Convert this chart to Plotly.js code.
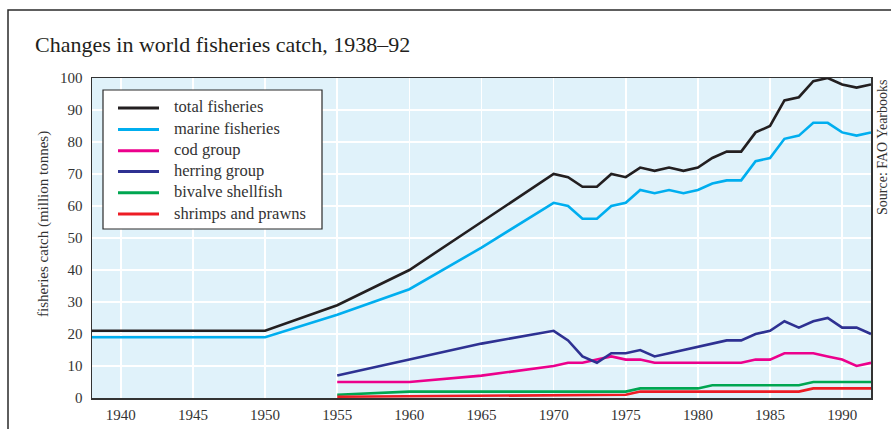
<!DOCTYPE html>
<html>
<head>
<meta charset="utf-8">
<script src="https://cdn.plot.ly/plotly-3.0.1.min.js"></script>
<style>
html,body{margin:0;padding:0;background:#fff;}
#chart{width:891px;height:429px;}
</style>
</head>
<body>
<div id="chart"></div>
<script>
// Years
const yearsTotal = [1938, 1950, 1955, 1960, 1965, 1970, 1971, 1972, 1973, 1974, 1975, 1976, 1977, 1978, 1979, 1980, 1981, 1982, 1983, 1984, 1985, 1986, 1987, 1988, 1989, 1990, 1991, 1992];
const yearsGroup = [1955, 1960, 1965, 1970, 1971, 1972, 1973, 1974, 1975, 1976, 1977, 1978, 1979, 1980, 1981, 1982, 1983, 1984, 1985, 1986, 1987, 1988, 1989, 1990, 1991, 1992];

// Series (million tonnes)
const totalFisheries  = [21, 21, 29, 40, 55, 70, 69, 66, 66, 70, 69, 72, 71, 72, 71, 72, 75, 77, 77, 83, 85, 93, 94, 99, 100, 98, 97, 98];
const marineFisheries = [19, 19, 26, 34, 47, 61, 60, 56, 56, 60, 61, 65, 64, 65, 64, 65, 67, 68, 68, 74, 75, 81, 82, 86, 86, 83, 82, 83];
const codGroup        = [5, 5, 7, 10, 11, 11, 12, 13, 12, 12, 11, 11, 11, 11, 11, 11, 11, 12, 12, 14, 14, 14, 13, 12, 10, 11];
const herringGroup    = [7, 12, 17, 21, 18, 13, 11, 14, 14, 15, 13, 14, 15, 16, 17, 18, 18, 20, 21, 24, 22, 24, 25, 22, 22, 20];
const bivalveShellfish= [1, 2, 2, 2, 2, 2, 2, 2, 2, 3, 3, 3, 3, 3, 4, 4, 4, 4, 4, 4, 4, 5, 5, 5, 5, 5];
const shrimpsPrawns   = [0.4, 0.6, 0.8, 1, 1, 1, 1, 1, 1, 2, 2, 2, 2, 2, 2, 2, 2, 2, 2, 2, 2, 3, 3, 3, 3, 3];

const xTicks = [1940, 1945, 1950, 1955, 1960, 1965, 1970, 1975, 1980, 1985, 1990];
const yTicks = [0, 10, 20, 30, 40, 50, 60, 70, 80, 90, 100];

const seriesNames = ['total fisheries', 'marine fisheries', 'cod group', 'herring group', 'bivalve shellfish', 'shrimps and prawns'];
const seriesColors = ['#231f20', '#00aeef', '#ec008c', '#2e3192', '#00a651', '#ed1c24'];

const FONT = '"Liberation Serif", "DejaVu Serif", serif';

// plot-area geometry in pixels (for converting layout positions to paper coords)
const PL = 92, PR = 871, PT = 78, PB = 398;
const px = v => (v - PL) / (PR - PL);
const py = v => (PB - v) / (PB - PT);

function tr(x, y, i) {
  return {x: x, y: y, name: seriesNames[i], type: 'scatter', mode: 'lines',
          line: {color: seriesColors[i], width: 2.6}, hoverinfo: 'skip', showlegend: false};
}

const data = [
  tr(yearsTotal, totalFisheries, 0),
  tr(yearsTotal, marineFisheries, 1),
  tr(yearsGroup, codGroup, 2),
  tr(yearsGroup, herringGroup, 3),
  tr(yearsGroup, bivalveShellfish, 4),
  tr(yearsGroup, shrimpsPrawns, 5)
];

// Legend (drawn as layout shapes + annotations)
const legendRows = [108, 129.5, 150.8, 171.5, 192.8, 214];
const shapes = [
  {type: 'rect', xref: 'paper', yref: 'paper', x0: px(8), x1: 1.2, y0: -0.3, y1: py(10),
   line: {color: '#2a2a2a', width: 1.5}, fillcolor: 'rgba(0,0,0,0)', layer: 'below'},
  {type: 'rect', xref: 'paper', yref: 'paper', x0: px(103), x1: px(322), y0: py(229), y1: py(90),
   line: {color: '#2a2a2a', width: 1.2}, fillcolor: '#ffffff', layer: 'above'}
];
const annotations = [
  {text: 'Source: FAO Yearbooks', textangle: -90, xref: 'paper', yref: 'paper',
   x: 1, y: 1, xanchor: 'left', yanchor: 'top', xshift: 2, showarrow: false,
   font: {size: 14, family: FONT, color: '#333333'}},
  {text: 'fisheries catch (million tonnes)', textangle: -90, xref: 'paper', yref: 'paper',
   x: px(43), y: py(224), xanchor: 'center', yanchor: 'middle', showarrow: false,
   font: {size: 15, family: FONT, color: '#333333'}}
];
seriesNames.forEach((name, i) => {
  shapes.push({type: 'line', xref: 'paper', yref: 'paper', x0: px(118), x1: px(159),
               y0: py(legendRows[i]), y1: py(legendRows[i]),
               line: {color: seriesColors[i], width: 3}, layer: 'above'});
  annotations.push({text: name, xref: 'paper', yref: 'paper', x: px(172), y: py(legendRows[i] - 1),
                    xanchor: 'left', yanchor: 'middle', showarrow: false,
                    font: {size: 16.5, family: FONT, color: '#333333'}});
});

const layout = {
  width: 891, height: 429,
  margin: {l: PL, r: 891 - PR, t: PT, b: 429 - PB},
  paper_bgcolor: '#ffffff',
  plot_bgcolor: '#e0f2fa',
  font: {family: FONT, color: '#333333', size: 15},
  title: {text: 'Changes in world fisheries catch, 1938–92', x: 35/891, xref: 'container', xanchor: 'left',
          y: 1 - 44/429, yref: 'container', yanchor: 'middle',
          font: {family: FONT, size: 22, color: '#231f20'}},
  xaxis: {range: [1938, 1992], tickvals: xTicks, ticktext: xTicks.map(String),
          showgrid: true, gridcolor: '#ffffff', gridwidth: 1.5, zeroline: false,
          showline: true, linecolor: '#333333', linewidth: 1.5, mirror: true,
          ticks: '', ticklabelstandoff: 2, tickfont: {size: 15, family: FONT, color: '#333333'}},
  yaxis: {range: [0, 100], tickvals: yTicks, ticktext: yTicks.map(String),
          showgrid: true, gridcolor: '#ffffff', gridwidth: 1.5, zeroline: false,
          showline: true, linecolor: '#333333', linewidth: 1.5, mirror: true,
          ticks: '', ticklabelstandoff: 5, tickfont: {size: 15, family: FONT, color: '#333333'}},
  showlegend: false,
  annotations: annotations,
  shapes: shapes
};

Plotly.newPlot('chart', data, layout, {staticPlot: true, displayModeBar: false});
</script>
</body>
</html>
